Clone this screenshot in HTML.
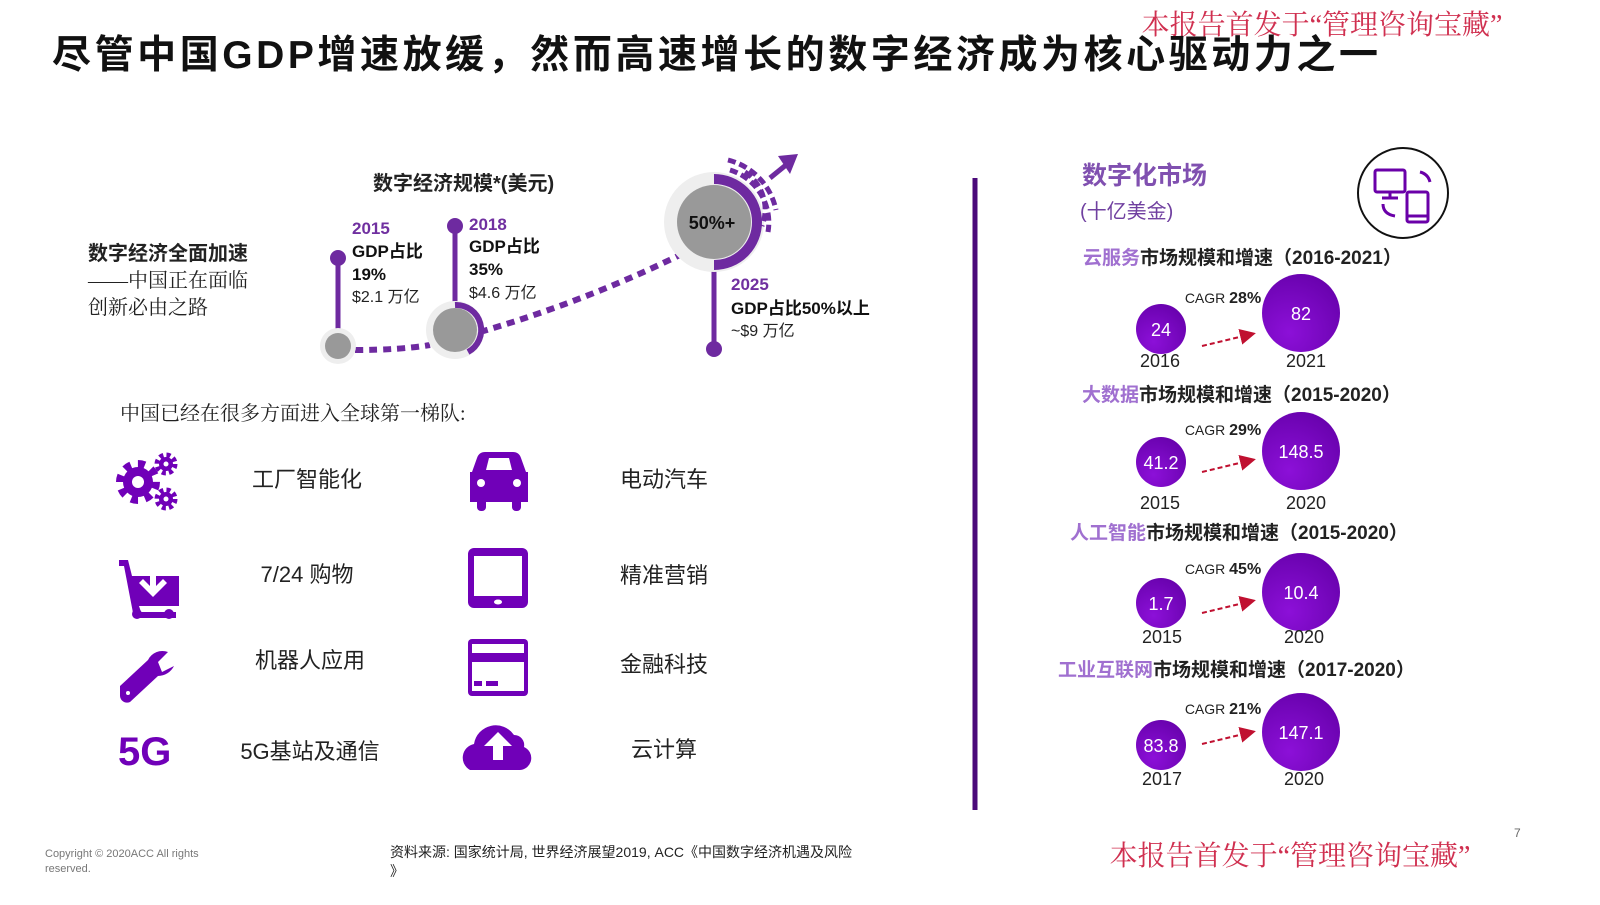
<!DOCTYPE html>
<html><head><meta charset="utf-8"><style>
body{margin:0;background:#fff;}
svg text{font-family:"Liberation Sans","Noto Sans CJK SC",sans-serif;}
.s{font-family:"Liberation Serif","Noto Serif CJK SC",serif;}
</style></head><body>
<svg width="1600" height="900" viewBox="0 0 1600 900" xmlns="http://www.w3.org/2000/svg">
<defs>
<radialGradient id="g" cx="0.35" cy="0.75" r="0.9"><stop offset="0" stop-color="#8c10d8"/><stop offset="1" stop-color="#6400a8"/></radialGradient>
<marker id="ar" markerWidth="8" markerHeight="8" refX="6" refY="4" orient="auto"><path d="M0,0L8,4L0,8z" fill="#c01030"/></marker>
</defs>
<text class="s" x="1322" y="34" font-size="28" fill="#d03050" text-anchor="middle">本报告首发于“管理咨询宝藏”</text>
<text x="52" y="68" font-size="39" font-weight="bold" fill="#111" textLength="1326">尽管中国GDP增速放缓，然而高速增长的数字经济成为核心驱动力之一</text>

<text x="373" y="190" font-size="20" font-weight="bold" fill="#222">数字经济规模*(美元)</text>
<text x="88" y="260" font-size="20" font-weight="bold" fill="#222">数字经济全面加速</text>
<text class="s" x="88" y="287" font-size="20" fill="#222">——中国正在面临</text>
<text class="s" x="88" y="314" font-size="20" fill="#222">创新必由之路</text>

<path d="M355,350 Q400,350 430,345 M480,332 Q590,300 690,250" stroke="#6e2aa0" stroke-width="6" stroke-dasharray="8,6" fill="none"/>
<line x1="338" y1="258" x2="338" y2="335" stroke="#6e2aa0" stroke-width="5"/>
<circle cx="338" cy="258" r="8" fill="#6e2aa0"/>
<circle cx="338" cy="346" r="18" fill="#eee"/><circle cx="338" cy="346" r="13" fill="#999"/>
<line x1="455" y1="226" x2="455" y2="310" stroke="#6e2aa0" stroke-width="5"/>
<circle cx="455" cy="226" r="8" fill="#6e2aa0"/>
<circle cx="455" cy="330" r="29" fill="#eee"/><circle cx="455" cy="330" r="22" fill="#999"/>
<path d="M455,305 A25,25 0 0 1 468,352" stroke="#6e2aa0" stroke-width="6" fill="none"/>
<text x="352" y="234" font-size="17" font-weight="bold" fill="#7030a0">2015</text>
<text x="352" y="257" font-size="17" font-weight="bold" fill="#111">GDP占比</text>
<text x="352" y="280" font-size="17" font-weight="bold" fill="#111">19%</text>
<text x="352" y="302" font-size="16" fill="#222">$2.1 万亿</text>
<text x="469" y="230" font-size="17" font-weight="bold" fill="#7030a0">2018</text>
<text x="469" y="252" font-size="17" font-weight="bold" fill="#111">GDP占比</text>
<text x="469" y="275" font-size="17" font-weight="bold" fill="#111">35%</text>
<text x="469" y="298" font-size="16" fill="#222">$4.6 万亿</text>

<line x1="714" y1="270" x2="714" y2="345" stroke="#6e2aa0" stroke-width="5"/>
<circle cx="714" cy="349" r="8" fill="#6e2aa0"/>
<circle cx="714" cy="222" r="50" fill="#eee"/>
<circle cx="714" cy="222" r="37" fill="#999"/>
<path d="M714,179 A43,43 0 0 1 714,265" stroke="#6e2aa0" stroke-width="10" fill="none"/>
<path d="M728,160 A65,65 0 0 1 776,210 M730,170 A55,55 0 0 1 768,232 M745,172 A45,45 0 0 1 762,226" stroke="#6e2aa0" stroke-width="5" stroke-dasharray="8,4" fill="none"/>
<path d="M770,178 L786,165" stroke="#6e2aa0" stroke-width="5"/>
<path d="M778,156 L798,154 L790,174z" fill="#6e2aa0"/>
<text x="712" y="229" font-size="18" font-weight="bold" fill="#111" text-anchor="middle">50%+</text>
<text x="731" y="290" font-size="17" font-weight="bold" fill="#7030a0">2025</text>
<text x="731" y="314" font-size="17" font-weight="bold" fill="#111">GDP占比50%以上</text>
<text x="731" y="336" font-size="16" fill="#222">~$9 万亿</text>

<text class="s" x="120" y="420" font-size="20" fill="#222">中国已经在很多方面进入全球第一梯队:</text>

<g fill="#7000b8">
<circle cx="138" cy="482" r="15"/>
<circle cx="138" cy="482" r="18" fill="none" stroke="#7000b8" stroke-width="8" stroke-dasharray="7,7.1"/>
<circle cx="138" cy="482" r="6" fill="#fff"/>
<circle cx="166" cy="464" r="7"/>
<circle cx="166" cy="464" r="9" fill="none" stroke="#7000b8" stroke-width="5" stroke-dasharray="4,3.1"/>
<circle cx="166" cy="464" r="2.5" fill="#fff"/>
<circle cx="166" cy="499" r="7"/>
<circle cx="166" cy="499" r="9" fill="none" stroke="#7000b8" stroke-width="5" stroke-dasharray="4,3.1"/>
<circle cx="166" cy="499" r="2.5" fill="#fff"/>
<path d="M119,560 h9 l4,16 h47 v30 h-40 l2,6 h35 v6 h-42 l-10,-52 h-5z"/>
<circle cx="137" cy="614" r="5"/><circle cx="169" cy="614" r="5"/>
<path d="M150,568 v18 l-7,-7 -4,4 14,14 14,-14 -4,-4 -7,7 v-18z" fill="#fff"/>
<path d="M120,686 L148,660 A16,16 0 0 1 168,652 L158,662 162,672 174,666 A18,18 0 0 1 158,676 L130,702 A7,7 0 0 1 120,696z"/>
<circle cx="128" cy="693" r="2" fill="#fff"/>
<text x="118" y="765" font-size="40" font-weight="bold" fill="#7000b8" style="font-family:'Liberation Sans'">5G</text>
<path d="M477,458 q2,-6 8,-6 h28 q6,0 8,6 l5,14 h2 v30 h-58 v-30 h2z"/>
<rect x="477" y="498" width="9" height="13" rx="4"/><rect x="512" y="498" width="9" height="13" rx="4"/>
<path d="M486,470 l3,-12 h20 l3,12z" fill="#fff"/>
<circle cx="481" cy="483" r="4" fill="#fff"/><circle cx="517" cy="483" r="4" fill="#fff"/>
<rect x="468" y="548" width="60" height="60" rx="6"/>
<rect x="474" y="556" width="48" height="40" fill="#fff"/>
<ellipse cx="498" cy="602" rx="4" ry="2.5" fill="#fff"/>
<rect x="468" y="639" width="60" height="57" rx="4"/>
<rect x="472" y="644" width="52" height="9" fill="#fff"/>
<rect x="472" y="662" width="52" height="29" fill="#fff"/>
<rect x="474" y="681" width="8" height="5"/><rect x="486" y="681" width="12" height="5"/>
<path d="M470,770 a14,14 0 0 1 4,-26 a22,22 0 0 1 40,-9 a10,10 0 0 1 10,12 a12,12 0 0 1 -4,23z"/>
<path d="M498,732 l-14,14 h9 v14 h10 v-14 h9z" fill="#fff"/>
</g>
<g class="s" font-size="22" fill="#222" text-anchor="middle">
<text x="307" y="487">工厂智能化</text><text x="307" y="582">7/24 购物</text>
<text x="310" y="668">机器人应用</text><text x="310" y="759">5G基站及通信</text>
<text x="664" y="487">电动汽车</text><text x="664" y="583">精准营销</text>
<text x="664" y="672">金融科技</text><text x="664" y="757">云计算</text>
</g>

<line x1="975" y1="178" x2="975" y2="810" stroke="#4b0a7a" stroke-width="5"/>

<text x="1082" y="184" font-size="25" font-weight="bold" fill="#8050b0">数字化市场</text>
<text x="1080" y="218" font-size="20" fill="#7040a0">(十亿美金)</text>
<circle cx="1403" cy="193" r="45" fill="none" stroke="#111" stroke-width="2"/>
<g stroke="#6a00a8" stroke-width="3" fill="none">
<rect x="1375" y="170" width="30" height="22" rx="2"/><line x1="1390" y1="192" x2="1390" y2="198"/><line x1="1382" y1="198" x2="1398" y2="198"/>
<rect x="1407" y="192" width="21" height="30" rx="2"/><line x1="1407" y1="216" x2="1428" y2="216"/>
<path d="M1420,172 q8,2 10,10"/><path d="M1383,204 q0,10 12,12"/>
</g>

<g font-size="19" font-weight="bold">
<text x="1083" y="264"><tspan fill="#a070d0">云服务</tspan><tspan fill="#222">市场规模和增速（2016-2021）</tspan></text>
<text x="1082" y="401"><tspan fill="#a070d0">大数据</tspan><tspan fill="#222">市场规模和增速（2015-2020）</tspan></text>
<text x="1070" y="539"><tspan fill="#a070d0">人工智能</tspan><tspan fill="#222">市场规模和增速（2015-2020）</tspan></text>
<text x="1058" y="676"><tspan fill="#a070d0">工业互联网</tspan><tspan fill="#222">市场规模和增速（2017-2020）</tspan></text>
</g>

<g font-size="18" fill="#222" text-anchor="middle">
<circle cx="1161" cy="329" r="25" fill="url(#g)"/><circle cx="1301" cy="313" r="39" fill="url(#g)"/>
<text x="1161" y="336" fill="#fff">24</text><text x="1301" y="320" fill="#fff">82</text>
<text x="1160" y="367">2016</text><text x="1306" y="367">2021</text>
<text x="1223" y="303" font-size="14">CAGR <tspan font-weight="bold" font-size="16">28%</tspan></text>
<line x1="1202" y1="346" x2="1252" y2="334" stroke="#c01030" stroke-width="2" stroke-dasharray="5,3" marker-end="url(#ar)"/>

<circle cx="1161" cy="462" r="25" fill="url(#g)"/><circle cx="1301" cy="451" r="39" fill="url(#g)"/>
<text x="1161" y="469" fill="#fff">41.2</text><text x="1301" y="458" fill="#fff">148.5</text>
<text x="1160" y="509">2015</text><text x="1306" y="509">2020</text>
<text x="1223" y="435" font-size="14">CAGR <tspan font-weight="bold" font-size="16">29%</tspan></text>
<line x1="1202" y1="472" x2="1252" y2="460" stroke="#c01030" stroke-width="2" stroke-dasharray="5,3" marker-end="url(#ar)"/>

<circle cx="1161" cy="603" r="25" fill="url(#g)"/><circle cx="1301" cy="592" r="39" fill="url(#g)"/>
<text x="1161" y="610" fill="#fff">1.7</text><text x="1301" y="599" fill="#fff">10.4</text>
<text x="1162" y="643">2015</text><text x="1304" y="643">2020</text>
<text x="1223" y="574" font-size="14">CAGR <tspan font-weight="bold" font-size="16">45%</tspan></text>
<line x1="1202" y1="613" x2="1252" y2="601" stroke="#c01030" stroke-width="2" stroke-dasharray="5,3" marker-end="url(#ar)"/>

<circle cx="1161" cy="745" r="25" fill="url(#g)"/><circle cx="1301" cy="732" r="39" fill="url(#g)"/>
<text x="1161" y="752" fill="#fff">83.8</text><text x="1301" y="739" fill="#fff">147.1</text>
<text x="1162" y="785">2017</text><text x="1304" y="785">2020</text>
<text x="1223" y="714" font-size="14">CAGR <tspan font-weight="bold" font-size="16">21%</tspan></text>
<line x1="1202" y1="744" x2="1252" y2="732" stroke="#c01030" stroke-width="2" stroke-dasharray="5,3" marker-end="url(#ar)"/>
</g>

<text x="45" y="857" font-size="11" fill="#777">Copyright © 2020ACC  All rights</text>
<text x="45" y="872" font-size="11" fill="#777">reserved.</text>
<text x="390" y="857" font-size="14" fill="#222">资料来源: 国家统计局, 世界经济展望2019, ACC《中国数字经济机遇及风险</text>
<text x="390" y="876" font-size="14" fill="#222">》</text>
<text x="1514" y="837" font-size="12" fill="#666">7</text>
<text class="s" x="1290" y="865" font-size="28" fill="#d03050" text-anchor="middle">本报告首发于“管理咨询宝藏”</text>
</svg>
</body></html>
